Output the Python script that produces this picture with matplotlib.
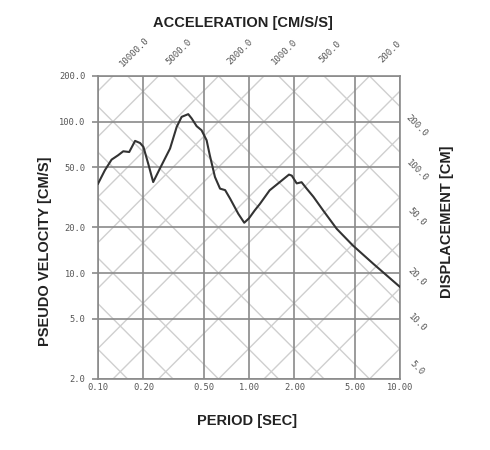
import numpy as np
import matplotlib
matplotlib.use("Agg")
import matplotlib.pyplot as plt

# ---- data ----
period = [0.100, 0.111, 0.123, 0.136, 0.147, 0.161, 0.176, 0.190, 0.200, 0.215,
          0.232, 0.257, 0.300, 0.332, 0.358, 0.396, 0.417, 0.450, 0.485, 0.524,
          0.550, 0.595, 0.643, 0.695, 0.750, 0.850, 0.930, 1.000, 1.090, 1.180,
          1.370, 1.600, 1.840, 1.920, 2.070, 2.230, 2.410, 2.670, 3.100, 3.810,
          4.880, 6.670, 10.00]
velocity = [38.9, 47.7, 56.1, 60.0, 63.7, 63.0, 74.6, 72.2, 68.0, 52.8,
            39.9, 49.0, 66.4, 92.3, 107.5, 112.0, 105.0, 93.3, 87.7, 75.3,
            60.0, 43.1, 36.1, 35.3, 31.0, 24.6, 21.5, 23.0, 25.9, 28.6,
            35.2, 39.9, 44.7, 44.0, 39.1, 39.8, 36.1, 31.9, 25.9, 19.6,
            15.2, 11.5, 8.1]

period_ticks = [0.1, 0.2, 0.5, 1.0, 2.0, 5.0, 10.0]
period_labels = ["0.10", "0.20", "0.50", "1.00", "2.00", "5.00", "10.00"]
velocity_ticks = [2, 5, 10, 20, 50, 100, 200]
velocity_labels = ["2.0", "5.0", "10.0", "20.0", "50.0", "100.0", "200.0"]

accel_lines = [2, 5, 10, 20, 50, 100, 200, 500, 1000, 2000, 5000, 10000]
accel_labels = [10000, 5000, 2000, 1000, 500, 200]
disp_lines = [0.05, 0.1, 0.2, 0.5, 1, 2, 5, 10, 20, 50, 100, 200]
disp_labels = [200, 100, 50, 20, 10, 5]

# ---- figure ----
W, H = 490, 450
fig = plt.figure(figsize=(W / 100, H / 100), dpi=100)
ax = fig.add_axes([98 / W, 1 - 379 / H, 302 / W, 303 / H])
ax.set_xscale("log")
ax.set_yscale("log")
ax.set_xlim(0.1, 10)
ax.set_ylim(2, 200)

T = np.array([0.1, 10.0])
tw = 2 * np.pi
for A in accel_lines:
    ax.plot(T, A * T / tw, color="#cfcfcf", lw=1.0, zorder=1)
for D in disp_lines:
    ax.plot(T, tw * D / T, color="#cfcfcf", lw=1.0, zorder=1)

for t in period_ticks:
    ax.axvline(t, color="#8a8a8a", lw=1.2, zorder=2)
for v in velocity_ticks:
    ax.axhline(v, color="#8a8a8a", lw=1.2, zorder=2)

ax.plot(period, velocity, color="#333333", lw=1.5, zorder=3)

for s in ax.spines.values():
    s.set_color("#8a8a8a")
    s.set_linewidth(1.2)

ax.set_xticks(period_ticks)
ax.set_xticklabels(period_labels)
ax.set_yticks(velocity_ticks)
ax.set_yticklabels(velocity_labels)
ax.minorticks_off()
mono = "DejaVu Sans Mono"
ax.tick_params(axis="x", length=0, pad=3, labelsize=6.3, labelcolor="#555555")
ax.tick_params(axis="y", length=4, width=1.2, color="#8a8a8a", pad=5,
               labelsize=6.3, labelcolor="#555555")
for lab in ax.get_xticklabels() + ax.get_yticklabels():
    lab.set_family(mono)

px = 0.72  # points per pixel at dpi 100
for A in accel_labels:
    ax.annotate(f"{A:.1f}", xy=(tw * 200 / A, 200), xytext=(21 * px, 24 * px),
                textcoords="offset points", rotation=45, ha="center", va="center",
                fontsize=6.5, family=mono, color="#555555", annotation_clip=False)
for D in disp_labels:
    ax.annotate(f"{D:.1f}", xy=(10, tw * D / 10), xytext=(17 * px, -19 * px),
                textcoords="offset points", rotation=-45, ha="center", va="center",
                fontsize=6.5, family=mono, color="#555555", annotation_clip=False)

font = dict(family="Liberation Sans", weight="bold", color="#222222", fontsize=10.5)
fig.text(243 / W, 1 - 23 / H, "ACCELERATION [CM/S/S]", ha="center", va="center", **font)
fig.text(45 / W, 1 - 251 / H, "PSEUDO VELOCITY [CM/S]", ha="center", va="center",
         rotation=90, **font)
fig.text(447 / W, 1 - 222 / H, "DISPLACEMENT [CM]", ha="center", va="center",
         rotation=90, **font)
fig.text(247 / W, 1 - 421 / H, "PERIOD [SEC]", ha="center", va="center", **font)

fig.savefig("out.png", dpi=100)
